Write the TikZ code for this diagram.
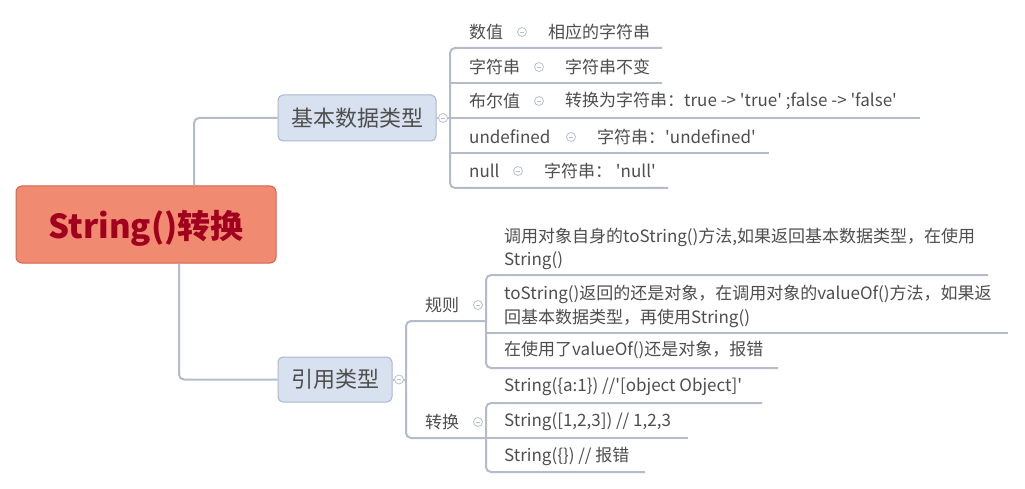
\documentclass[tikz,border=0pt]{standalone}
\usepackage{fontspec}
\newfontfamily\cjk{Noto Sans CJK SC}
\definecolor{lc}{HTML}{B4BCCB}
\definecolor{fc}{HTML}{B8C0CE}
\definecolor{tc}{HTML}{4E4E4E}
\definecolor{rootf}{HTML}{F08A71}
\definecolor{rootb}{HTML}{D5634D}
\definecolor{roott}{HTML}{A0001E}
\definecolor{boxf}{HTML}{D7E1EF}
\definecolor{boxb}{HTML}{AAB7CC}
\begin{document}
\begin{tikzpicture}[x=1pt,y=-1pt,
 conn/.style={draw=lc, line width=2pt, rounded corners=5pt},
 leaf/.style={anchor=west, inner sep=0pt, font=\cjk\fontsize{17}{23}\selectfont, text=tc, align=left},
 topicbox/.style={draw=boxb, fill=boxf, rounded corners=5pt, line width=1pt, inner sep=0pt, font=\cjk\fontsize{22}{22}\selectfont, text=tc},
 fold/.style={circle, draw=fc, fill=white, line width=0.8pt, minimum size=9pt, inner sep=0pt,
   path picture={\draw[fc, line width=0.8pt] ([xshift=-2.2pt]path picture bounding box.center) -- ([xshift=2.2pt]path picture bounding box.center);}},
]
\useasboundingbox (0,0) rectangle (1025,489);
\fill[white] (0,0) rectangle (1025,489);

% central topic and main topics
\node[draw=rootb, fill=rootf, rounded corners=6pt, line width=1pt, minimum width=260pt, minimum height=77pt, inner sep=0pt,
      font=\cjk\bfseries\fontsize{33}{33}\selectfont, text=roott] (root) at (146,224.5) {};
\node[inner sep=0pt, font=\cjk\bfseries\fontsize{33}{33}\selectfont, text=roott] (roottext) at (146,228) {String()转换};
\node[topicbox, minimum width=158pt, minimum height=46pt] (b) at (357,118) {基本数据类型};
\node[topicbox, minimum width=114pt, minimum height=45pt] (r) at (335,379.5) {引用类型};

\draw[conn] ([xshift=48pt]root.north) |- (b.west);
\draw[conn] ([xshift=33pt]root.south) |- (r.west);

% basic types branch
\draw[conn] (662,48) -- (450,48) -- (450,188) -- (668,188);
\draw[conn] (450,83) -- (662,83);
\draw[conn] (b.east) -- (920,118);
\draw[conn] (450,153) -- (769,153);
\node[fold] (fb) at (443,118) {};

\node[leaf] (k1) at (469,32) {数值};
\node[fold] (f1) at (522,32) {};
\node[leaf] (v1) at (548,32) {相应的字符串};
\node[leaf] (k2) at (469,67) {字符串};
\node[fold] (f2) at (539,67) {};
\node[leaf] (v2) at (565,67) {字符串不变};
\node[leaf] (k3) at (469,101) {布尔值};
\node[fold] (f3) at (539,101) {};
\node[leaf] (v3) at (565,101) {转换为字符串：true -> 'true' ;false -> 'false'};
\node[leaf] (k4) at (469,137) {undefined};
\node[fold] (f4) at (571,137) {};
\node[leaf] (v4) at (597,137) {字符串：'undefined'};
\node[leaf] (k5) at (469,171) {null};
\node[fold] (f5) at (518,171) {};
\node[leaf] (v5) at (544,171) {字符串： 'null'};

% reference types branch
\draw[conn] (486,321) -- (406,321) -- (406,438) -- (486,438);
\draw[conn] (r.east) -- (406,379.5);
\node[fold] (fr) at (399,379.5) {};

\node[leaf] (g1) at (425,305) {规则};
\node[fold] (fg1) at (478,305) {};
\node[leaf] (g2) at (425,422) {转换};
\node[fold] (fg2) at (478,422) {};

\draw[conn] (988,275) -- (486,275) -- (486,368) -- (778,368);
\draw[conn] (486,333) -- (1008,333);
\draw[conn] (762,403) -- (486,403) -- (486,472) -- (645,472);
\draw[conn] (486,438) -- (688,438);

\node[leaf] (r1) at (504,248.5) {调用对象自身的toString()方法,如果返回基本数据类型，在使用\\String()};
\node[leaf] (r2) at (504,306) {toString()返回的还是对象，在调用对象的valueOf()方法，如果返\\[1pt]回基本数据类型，再使用String()};
\node[leaf] (r3) at (504,350) {在使用了valueOf()还是对象，报错};
\node[leaf] (c1) at (504,387) {String(\{a:1\}) //'[object Object]'};
\node[leaf] (c2) at (504,422) {String([1,2,3]) // 1,2,3};
\node[leaf] (c3) at (504,456) {String(\{\}) // 报错};
\end{tikzpicture}
\end{document}
